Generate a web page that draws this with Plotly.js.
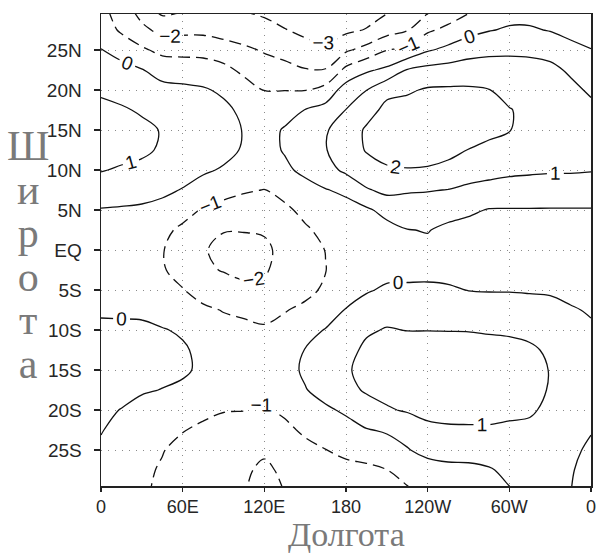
<!DOCTYPE html>
<html><head><meta charset="utf-8">
<script src="https://cdn.plot.ly/plotly-3.0.1.min.js"></script>
<style>html,body{margin:0;padding:0;background:#fff;}#chart{width:597px;height:553px;}</style>
</head><body><div id="chart"></div>
<script>
// Longitudes (deg east) and latitudes (deg) of the field grid
const lons = [0,15,30,45,60,75,90,105,120,135,150,165,180,195,210,225,240,255,270,285,300,315,330,345,360];
const lats = [30,27.5,25,22.5,20,17.5,15,12.5,10,7.5,5,2.5,0,-2.5,-5,-7.5,-10,-12.5,-15,-17.5,-20,-22.5,-25,-27.5,-30];

// Field values, one row per latitude (north to south)
const rowN30   = [-0.8,-1.35,-2.5,-3.25,-3.1,-3.1,-3.1,-3.05,-3.25,-3.55,-3.7,-3.8,-3.75,-3.45,-3.15,-2.85,-2.2,-1.65,-1.15,-0.6,-0.35,-0.35,-0.5,-0.6,-0.8];
const rowN27_5 = [-0.45,-1.15,-1.7,-2.35,-2.25,-2.25,-2.45,-2.6,-2.6,-2.95,-3.25,-3.55,-3.2,-2.95,-2.4,-2.05,-1.15,-0.75,-0.3,-0.05,0.1,0.1,-0.05,-0.35,-0.45];
const rowN25   = [0.03,-0.35,-0.85,-1.25,-1.3,-1.3,-1.5,-1.8,-2.1,-2.4,-2.6,-2.75,-2.15,-1.65,-1.02,-0.8,-0.1,0.25,0.55,0.75,0.8,0.8,0.65,0.35,0.03];
const rowN22_5 = [0.45,0.3,0.05,-0.4,-0.45,-0.55,-0.75,-1.2,-1.5,-1.65,-1.95,-1.95,-0.75,-0.15,0.2,1.05,1.3,1.4,1.55,1.5,1.45,1.35,1.25,0.85,0.45];
const rowN20   = [0.85,0.7,0.55,0.3,0.2,0.1,-0.15,-0.6,-1.02,-1.02,-1.03,-0.65,0.45,0.98,1.8,1.88,2.1,2.12,2.1,2.02,1.8,1.65,1.55,1.25,0.85];
const rowN17_5 = [1.25,1.1,0.9,0.65,0.5,0.4,0.2,-0.2,-0.6,-0.45,0.03,0.35,1.02,1.7,2.2,2.35,2.45,2.4,2.35,2.2,2.03,1.85,1.75,1.55,1.25];
const rowN15   = [1.45,1.35,1.2,0.95,0.7,0.55,0.38,-0.05,-0.4,0.1,0.6,0.9,1.55,2.1,2.35,2.5,2.6,2.5,2.4,2.2,2.02,1.85,1.75,1.6,1.45];
const rowN12_5 = [1.4,1.3,1.15,0.9,0.7,0.5,0.3,-0.1,-0.35,0.08,0.7,0.95,1.6,2.05,2.3,2.4,2.45,2.25,1.98,1.8,1.7,1.6,1.55,1.45,1.4];
const rowN10   = [1.05,0.9,0.8,0.6,0.4,0.15,-0.1,-0.4,-0.55,-0.2,0.25,0.65,1.2,1.7,1.9,1.95,1.9,1.75,1.45,1.3,1.2,1.15,1.1,1.1,1.05];
const rowN7_5  = [0.5,0.45,0.35,0.2,-0.05,-0.45,-0.7,-0.9,-1.02,-0.75,-0.4,-0.05,0.2,0.9,1.25,1.1,1.05,0.98,0.8,0.7,0.6,0.55,0.5,0.5,0.5];
const rowN5    = [-0.05,-0.1,-0.15,-0.3,-0.6,-1.1,-1.3,-1.45,-1.45,-1.15,-0.8,-0.55,-0.35,-0.15,0.3,0.5,0.5,0.25,0.15,-0.05,-0.05,-0.05,-0.05,-0.05,-0.05];
const rowN2_5  = [-0.35,-0.45,-0.55,-0.75,-1.2,-1.6,-1.95,-1.95,-1.9,-1.5,-1.1,-0.8,-0.55,-0.45,-0.3,-0.02,0.03,-0.15,-0.3,-0.45,-0.5,-0.5,-0.45,-0.4,-0.35];
const rowEq    = [-0.5,-0.6,-0.75,-0.95,-1.45,-1.9,-2.3,-2.35,-2.2,-1.7,-1.35,-0.98,-0.65,-0.5,-0.4,-0.25,-0.15,-0.3,-0.45,-0.6,-0.65,-0.65,-0.6,-0.55,-0.5];
const rowS2_5  = [-0.5,-0.6,-0.75,-0.9,-1.4,-1.85,-2.05,-2.25,-2.1,-1.65,-1.4,-1.02,-0.6,-0.45,-0.3,-0.25,-0.15,-0.25,-0.4,-0.5,-0.55,-0.55,-0.5,-0.5,-0.5];
const rowS5    = [-0.4,-0.45,-0.55,-0.65,-0.95,-1.45,-1.6,-1.75,-1.8,-1.45,-1.25,-0.85,-0.4,-0.1,0.15,0.15,0.1,0.1,-0.02,-0.05,-0.05,-0.08,-0.12,-0.3,-0.4];
const rowS7_5  = [-0.1,-0.12,-0.15,-0.35,-0.6,-0.8,-1.05,-1.15,-1.25,-1.05,-0.8,-0.5,0.05,0.45,0.7,0.7,0.65,0.6,0.5,0.45,0.4,0.35,0.3,0.1,-0.1];
const rowS10   = [0.15,0.15,0.15,0.05,-0.1,-0.45,-0.65,-0.8,-0.9,-0.7,-0.35,0.05,0.45,0.9,1.05,0.98,0.98,0.97,0.96,0.9,0.85,0.75,0.6,0.4,0.15];
const rowS12_5 = [0.3,0.3,0.3,0.2,0.1,-0.2,-0.45,-0.65,-0.7,-0.45,0.03,0.4,0.75,1.15,1.35,1.4,1.4,1.4,1.4,1.35,1.3,1.15,0.85,0.6,0.3];
const rowS15   = [0.35,0.35,0.35,0.2,0.12,-0.15,-0.4,-0.6,-0.65,-0.35,0.15,0.55,0.9,1.25,1.45,1.55,1.6,1.65,1.7,1.65,1.6,1.45,0.95,0.65,0.35];
const rowS17_5 = [0.3,0.3,0.08,-0.02,-0.15,-0.35,-0.6,-0.75,-0.8,-0.5,-0.05,0.35,0.75,1.1,1.3,1.5,1.55,1.6,1.65,1.65,1.6,1.45,0.9,0.6,0.3];
const rowS20   = [0.2,-0.03,-0.25,-0.4,-0.5,-0.75,-0.95,-0.98,-1.1,-0.85,-0.45,-0.15,0.15,0.6,0.9,1.1,1.3,1.35,1.4,1.4,1.3,1.15,0.75,0.45,0.2];
const rowS22_5 = [0.05,-0.3,-0.5,-0.7,-0.95,-1.2,-1.35,-1.4,-1.45,-1.2,-0.85,-0.55,-0.35,-0.05,0.1,0.3,0.75,0.85,0.85,0.85,0.75,0.75,0.55,0.3,0.05];
const rowS25   = [-0.15,-0.55,-0.7,-0.95,-1.3,-1.55,-1.65,-1.7,-1.8,-1.5,-1.25,-1.02,-0.75,-0.6,-0.4,-0.05,0.25,0.3,0.35,0.45,0.55,0.5,0.4,0.18,-0.15];
const rowS27_5 = [-0.35,-0.75,-0.8,-1.1,-1.6,-1.8,-1.9,-1.8,-2.25,-1.75,-1.5,-1.35,-1.3,-1.2,-1.01,-0.65,-0.35,-0.2,-0.2,-0.08,0.2,0.3,0.25,0.08,-0.35];
const rowS30   = [-0.5,-0.9,-0.85,-1.2,-1.75,-1.9,-1.95,-1.9,-2.6,-1.95,-1.65,-1.55,-1.5,-1.45,-1.35,-1.1,-0.75,-0.55,-0.5,-0.45,-0.05,0.2,0.15,0.02,-0.5];

// Tick labels
const xTickVals = [0,60,120,180,240,300,360];
const xTickText = ['0','60E','120E','180','120W','60W','0'];
const yTickVals = [-25,-20,-15,-10,-5,0,5,10,15,20,25];
const yTickText = ['25S','20S','15S','10S','5S','EQ','5N','10N','15N','20N','25N'];

// Contour levels: negatives dashed, zero and positives solid
const negLevels = {start:-3, end:-1, size:1};
const posLevels = {start:0, end:2, size:1};

const rowsNorthToSouth = [rowN30,rowN27_5,rowN25,rowN22_5,rowN20,rowN17_5,rowN15,rowN12_5,rowN10,rowN7_5,rowN5,rowN2_5,rowEq,
  rowS2_5,rowS5,rowS7_5,rowS10,rowS12_5,rowS15,rowS17_5,rowS20,rowS22_5,rowS25,rowS27_5,rowS30];
const zField = rowsNorthToSouth.slice().reverse();
const yField = lats.slice().reverse();

const labelFont = {family:'Liberation Sans, Arial, sans-serif', size:19, color:'#111'};
function contourTrace(levels, dash){
  return {
    type:'contour', x:lons, y:yField, z:zField,
    autocontour:false, showscale:false, hoverinfo:'skip',
    contours:{start:levels.start, end:levels.end, size:levels.size, coloring:'none', showlabels:true, labelfont:labelFont, labelformat:'d'},
    line:{color:'#111', width:1.3, dash:dash, smoothing:1}
  };
}

const tickFont = {family:'Liberation Sans, Arial, sans-serif', size:18, color:'#262626'};
const serif = 'Liberation Serif, Times New Roman, serif';
const yTitleText = ['Ш','и','р','о','т','а'].map(function(c){return '<span style="font-size:42px">'+c+'</span>';}).join('<br>');
const layout = {
  width:597, height:553,
  margin:{l:101, r:6, t:14, b:67},
  paper_bgcolor:'#fff', plot_bgcolor:'#fff',
  showlegend:false,
  xaxis:{range:[0,360], tickmode:'array', tickvals:xTickVals, ticktext:xTickText,
    ticks:'outside', ticklen:4, tickcolor:'#222', tickwidth:1.5, tickfont:tickFont, ticklabelstandoff:0,
    showline:true, linecolor:'#222', linewidth:1.5, mirror:true,
    showgrid:true, gridcolor:'#8a8a8a', gridwidth:1, griddash:'1px,6px', zeroline:false},
  yaxis:{range:[-29.5,29.5], tickmode:'array', tickvals:yTickVals, ticktext:yTickText,
    ticks:'outside', ticklen:6, tickcolor:'#222', tickwidth:1.5, tickfont:{family:'Liberation Sans, Arial, sans-serif', size:19, color:'#262626'}, ticklabelstandoff:8,
    showline:true, linecolor:'#222', linewidth:1.5, mirror:true,
    showgrid:true, gridcolor:'#8a8a8a', gridwidth:1, griddash:'1px,6px', zeroline:false},
  annotations:[
    {text:yTitleText, xref:'paper', yref:'paper', x:-0.15, y:0.49, xanchor:'center', yanchor:'middle',
     showarrow:false, font:{family:serif, size:33.5, color:'#7a7a7a'}},
    {text:'Долгота', xref:'paper', yref:'paper', x:0.5, y:-0.1035, xanchor:'center', yanchor:'middle',
     showarrow:false, font:{family:serif, size:34, color:'#7a7a7a'}}
  ]
};

Plotly.newPlot('chart', [contourTrace(negLevels, '12px,6px'), contourTrace(posLevels, 'solid')], layout, {staticPlot:true, displayModeBar:false});
</script>
</body></html>
